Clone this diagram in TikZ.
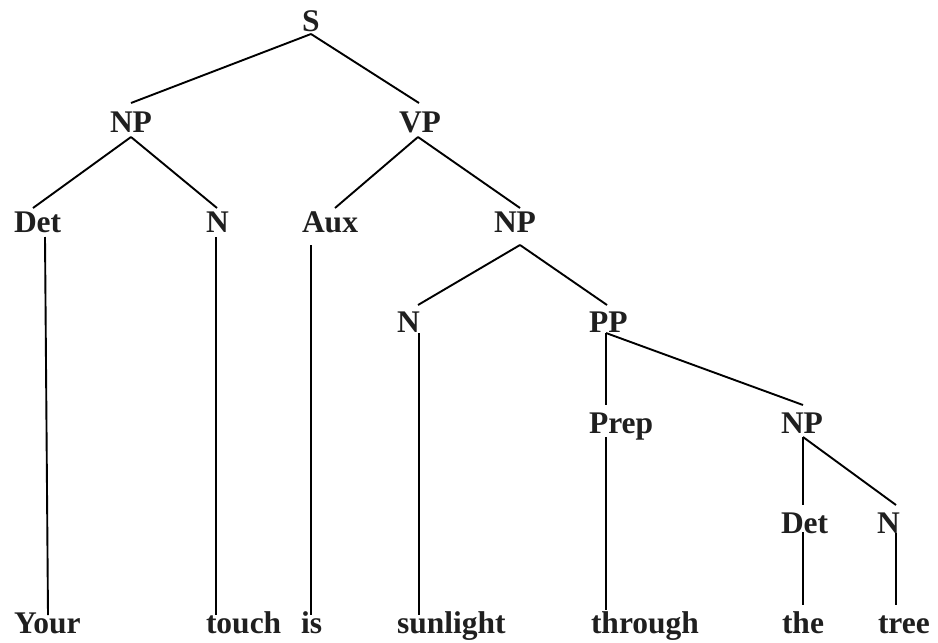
\documentclass[tikz,border=0pt]{standalone}
\usepackage{fontspec}
\setmainfont{Liberation Serif}
\begin{document}
\begin{tikzpicture}[x=1pt,y=-1pt,
  lbl/.style={anchor=base west,inner sep=0pt,outer sep=0pt,font=\fontsize{31.5}{31.5}\selectfont\bfseries,text=black!88},
  edge/.style={line width=1.9pt,line cap=butt}]
\useasboundingbox (0,0) rectangle (938,643);
% labels
\node[lbl] (S) at (302,31) {S};
\node[lbl] (NPa) at (110,132) {NP};
\node[lbl] (VP) at (399,132) {VP};
\node[lbl] (Deta) at (14,232) {Det};
\node[lbl] (Na) at (206,232) {N};
\node[lbl] (Aux) at (302,232) {Aux};
\node[lbl] (NPb) at (494,232) {NP};
\node[lbl] (Nb) at (397,332) {N};
\node[lbl] (PP) at (589,332) {PP};
\node[lbl] (Prep) at (589,433) {Prep};
\node[lbl] (NPc) at (781,433) {NP};
\node[lbl] (Detb) at (781,533) {Det};
\node[lbl] (Nc) at (877,533) {N};
\node[lbl] (wYour) at (14,633) {Your};
\node[lbl] (wtouch) at (206,633) {touch};
\node[lbl] (wis) at (301,633) {is};
\node[lbl] (wsun) at (397,633) {sunlight};
\node[lbl] (wthr) at (591,633) {through};
\node[lbl] (wthe) at (782,633) {the};
\node[lbl] (wtree) at (878,633) {tree};
% connector end points
\coordinate (S-b) at (311,34);
\coordinate (NPa-t) at (131,103);
\coordinate (VP-t) at (419,103);
\coordinate (NPa-b) at (131,137);
\coordinate (VP-b) at (418,137);
\coordinate (Deta-t) at (33,208);
\coordinate (Na-t) at (217,208);
\coordinate (Aux-t) at (335,208);
\coordinate (NPb-t) at (520,208);
\coordinate (Deta-b) at (45,237);
\coordinate (Your-t) at (48,615);
\coordinate (Na-b) at (216,237);
\coordinate (touch-t) at (216,615);
\coordinate (Aux-b) at (311,245);
\coordinate (is-t) at (311,615);
\coordinate (NPb-b) at (520,245);
\coordinate (Nb-t) at (418,305);
\coordinate (PP-t) at (607,305);
\coordinate (Nb-b) at (419,333);
\coordinate (sun-t) at (419,615);
\coordinate (PP-b) at (606,333);
\coordinate (Prep-t) at (606,405);
\coordinate (NPc-t) at (803,405);
\coordinate (Prep-b) at (606,437);
\coordinate (thr-t) at (606,610);
\coordinate (NPc-b) at (803,437);
\coordinate (Detb-t) at (803,505);
\coordinate (Nc-t) at (896,505);
\coordinate (Detb-b) at (803,532);
\coordinate (the-t) at (803,605);
\coordinate (Nc-b) at (896,533);
\coordinate (tree-t) at (896,605);
% connectors
\draw[edge] (S-b) -- (NPa-t);
\draw[edge] (S-b) -- (VP-t);
\draw[edge] (NPa-b) -- (Deta-t);
\draw[edge] (NPa-b) -- (Na-t);
\draw[edge] (VP-b) -- (Aux-t);
\draw[edge] (VP-b) -- (NPb-t);
\draw[edge] (Deta-b) -- (Your-t);
\draw[edge] (Na-b) -- (touch-t);
\draw[edge] (Aux-b) -- (is-t);
\draw[edge] (NPb-b) -- (Nb-t);
\draw[edge] (NPb-b) -- (PP-t);
\draw[edge] (Nb-b) -- (sun-t);
\draw[edge] (PP-b) -- (Prep-t);
\draw[edge] (PP-b) -- (NPc-t);
\draw[edge] (Prep-b) -- (thr-t);
\draw[edge] (NPc-b) -- (Detb-t);
\draw[edge] (NPc-b) -- (Nc-t);
\draw[edge] (Detb-b) -- (the-t);
\draw[edge] (Nc-b) -- (tree-t);
\end{tikzpicture}
\end{document}
